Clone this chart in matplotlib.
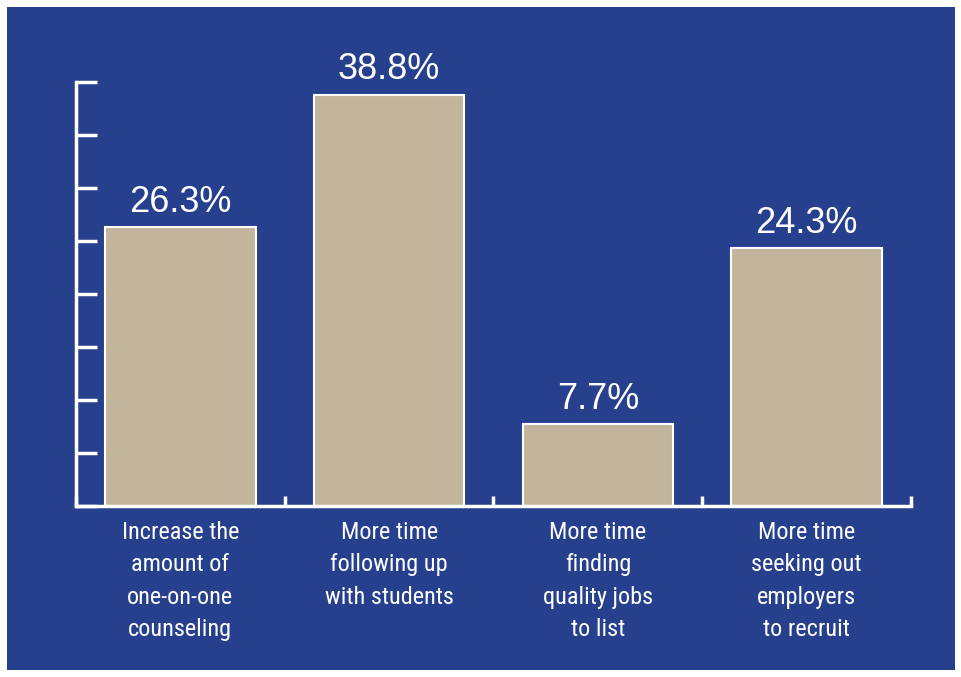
import matplotlib
matplotlib.use("Agg")
import matplotlib.pyplot as plt
from matplotlib import font_manager

categories = [
    "Increase the\namount of\none-on-one\ncounseling",
    "More time\nfollowing up\nwith students",
    "More time\nfinding\nquality jobs\nto list",
    "More time\nseeking out\nemployers\nto recruit",
]
values = [26.3, 38.8, 7.7, 24.3]
value_labels = ["26.3%", "38.8%", "7.7%", "24.3%"]
y_ticks = [0, 5, 10, 15, 20, 25, 30, 35, 40]

BLUE = "#26408E"
BAR = "#C2B59C"
WHITE = "#FFFFFF"

# narrowest installed sans family for the category captions
names = {f.name for f in font_manager.fontManager.ttflist}
narrow = next((n for n in ["Roboto Condensed", "Liberation Sans Narrow",
                           "DejaVu Sans Condensed", "Open Sans Condensed",
                           "Roboto", "Liberation Sans"] if n in names),
              "DejaVu Sans")

fig = plt.figure(figsize=(9.62, 6.77), dpi=100, facecolor=WHITE)
# blue panel inside a thin white margin
fig.patches.append(plt.Rectangle((7 / 962, 7 / 677), 948 / 962, 663 / 677,
                                 transform=fig.transFigure, facecolor=BLUE,
                                 edgecolor="none", zorder=-10))

ax = fig.add_axes([76 / 962, 1 - 506 / 677, 835 / 962, 424 / 677])
ax.set_facecolor("none")

x = list(range(len(values)))
ax.bar(x, values, width=0.72, color=BAR, edgecolor=WHITE, linewidth=1.5, zorder=2)

for xi, v, lab in zip(x, values, value_labels):
    ax.annotate(lab, (xi, v), xytext=(0, 11), textcoords="offset points",
                ha="center", va="baseline", color=WHITE, fontsize=26,
                family="Liberation Sans")

ax.set_xlim(-0.5, len(values) - 0.5)
ax.set_ylim(0, 40)

for s in ["top", "right"]:
    ax.spines[s].set_visible(False)
for s in ["left", "bottom"]:
    ax.spines[s].set_color(WHITE)
    ax.spines[s].set_linewidth(2.5)

ax.set_yticks(y_ticks)
ax.set_yticklabels([])
ax.tick_params(axis="y", direction="in", length=15, width=2.5, color=WHITE)

ax.set_xticks([i - 0.5 for i in range(len(values) + 1)])
ax.set_xticklabels([])
ax.tick_params(axis="x", direction="in", length=7, width=2.5, color=WHITE)

for xi, cat in zip(x, categories):
    ax.text(xi, -1.4, cat, ha="center", va="top", color=WHITE, fontsize=17.5,
            family=narrow, linespacing=1.52)

fig.savefig("out.png", dpi=100, facecolor=WHITE)
